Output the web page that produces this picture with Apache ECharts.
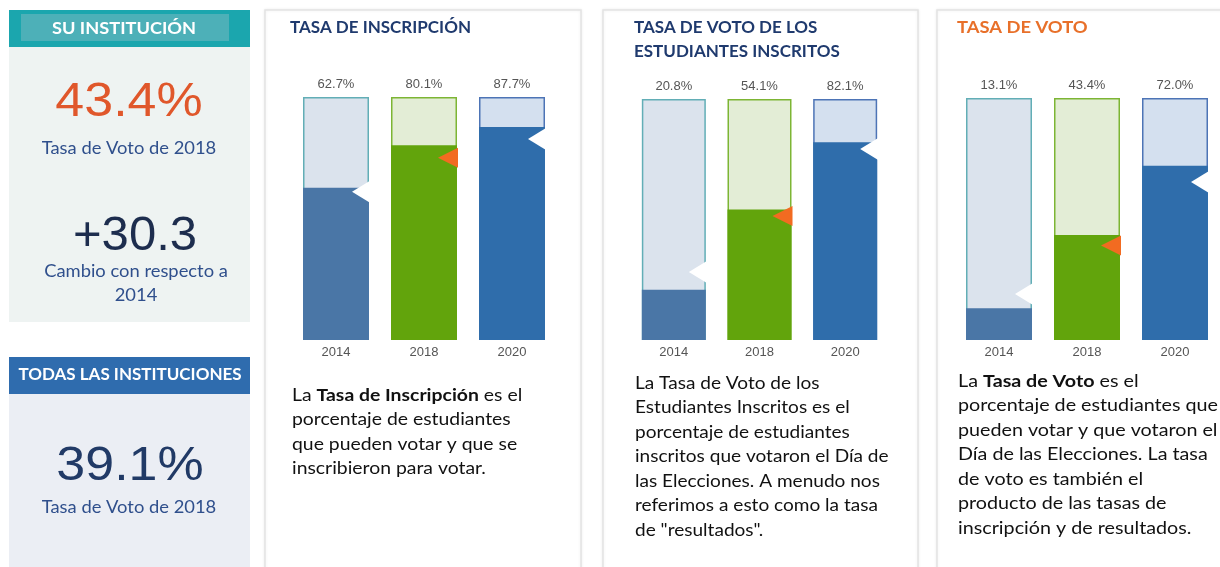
<!DOCTYPE html>
<html>
<head>
<meta charset="utf-8">
<script src="https://cdn.jsdelivr.net/npm/echarts@6/dist/echarts.min.js"></script>
<style>
html, body { margin: 0; padding: 0; background: #fff; }
#main { width: 1220px; height: 567px; }
</style>
</head>
<body>
<div id="main"></div>
<script>
// datos
var years = ['2014', '2018', '2020'];
var tasaInscripcion = [62.7, 80.1, 87.7];
var tasaVotoInscritos = [20.8, 54.1, 82.1];
var tasaVoto = [13.1, 43.4, 72.0];
// marcas de todas las instituciones
var inscripcionTodas = [61.0, 75.0, 82.7];
var votoInscritosTodas = [28.2, 51.5, 79.3];
var tasaVotoTodas = [19.0, 39.1, 65.3];
var suTasa2018 = 43.4;
var cambioDesde2014 = 30.3;
var todasTasa2018 = 39.1;

var colRelleno = ['#4a76a6', '#62a40c', '#2f6dab'];
var colFondo = ['#dbe3ed', '#e3edd6', '#d4e0ef'];
var colBorde = ['#62aeb6', '#7db534', '#4d74b6'];

var sans = 'Lato';
var arial = '"Liberation Sans", Arial';

var myChart = echarts.init(document.getElementById('main'));

var paneles = [
    { valores: tasaInscripcion, marcas: inscripcionTodas, left: 292, width: 264, top: 97, barW: 66 },
    { valores: tasaVotoInscritos, marcas: votoInscritosTodas, left: 631, width: 257, top: 99, barW: 64 },
    { valores: tasaVoto, marcas: tasaVotoTodas, left: 955, width: 264, top: 98, barW: 66 }
];

function fmt(v) { return v.toFixed(1) + '%'; }

function marcaItem(barW) {
    return function (params, api) {
        var p = api.coord([api.value(0), api.value(1)]);
        var right = p[0] + barW / 2;
        var naranja = params.dataIndex === 1;
        var w = naranja ? 19 : 17;
        var h = naranja ? 20 : 22;
        return {
            type: 'polygon',
            shape: { points: [[right + 1, p[1] - h / 2], [right - w, p[1]], [right + 1, p[1] + h / 2]] },
            style: { fill: naranja ? '#f26b21' : '#ffffff' }
        };
    };
}

var grids = [], xAxes = [], yAxes = [], series = [];
paneles.forEach(function (pn, i) {
    grids.push({ left: pn.left, width: pn.width, top: pn.top, bottom: 567 - 340 });
    xAxes.push({
        type: 'category', gridIndex: i, data: years,
        axisLine: { show: false }, axisTick: { show: false },
        axisLabel: { color: '#555', fontSize: 13, fontFamily: arial, margin: 6 }
    });
    yAxes.push({ type: 'value', gridIndex: i, min: 0, max: 100, show: false });
    series.push({
        type: 'bar', xAxisIndex: i, yAxisIndex: i, barWidth: pn.barW, barGap: '-100%',
        silent: true,
        data: years.map(function (y, k) {
            return { value: 100, itemStyle: { color: colFondo[k], borderColor: colBorde[k], borderWidth: 1.5 } };
        }),
        label: {
            show: true, position: 'top', distance: 6, color: '#555', fontSize: 13, fontFamily: arial,
            formatter: function (p) { return fmt(pn.valores[p.dataIndex]); }
        }
    });
    series.push({
        type: 'bar', xAxisIndex: i, yAxisIndex: i, barWidth: pn.barW, barGap: '-100%',
        silent: true,
        data: pn.valores.map(function (v, k) {
            return { value: v, itemStyle: { color: colRelleno[k] } };
        })
    });
    series.push({
        type: 'custom', xAxisIndex: i, yAxisIndex: i, silent: true,
        renderItem: marcaItem(pn.barW),
        data: pn.marcas.map(function (v, k) { return [k, v]; }),
        z: 5
    });
});

function tarjeta(x, w) {
    return { type: 'rect', shape: { x: x, y: 10, width: w, height: 570 },
        style: { fill: '#fff', stroke: '#e3e3e3', lineWidth: 1.5, shadowBlur: 3, shadowColor: 'rgba(0,0,0,0.08)' }, z: -10 };
}

// texto con escala horizontal (la referencia esta algo estirada)
function texto(x, y, t, size, color, extra, sx) {
    var s = { text: t, x: 0, y: 0, fontSize: size, fill: color, fontFamily: sans,
        textAlign: 'center', textVerticalAlign: 'middle' };
    for (var k in extra) s[k] = extra[k];
    return { type: 'text', x: x, y: y, scaleX: sx || 1, style: s, z: 10 };
}

var negrita = { fontFamily: sans, fontSize: 17, fontWeight: 'bold', fill: '#111', lineHeight: 24.5 };
function parrafo(x, y, t, sx) {
    return { type: 'text', z: 10, x: x, y: y, scaleX: sx, style: {
        text: t, x: 0, y: 0, fontFamily: sans, fontSize: 17, fill: '#111', lineHeight: 24.5,
        textVerticalAlign: 'top', rich: { b: negrita }
    } };
}

var graficos = [
    // columna izquierda
    { type: 'rect', shape: { x: 9, y: 46, width: 241, height: 276 }, style: { fill: '#eef3f2' }, z: -10 },
    { type: 'rect', shape: { x: 9, y: 10, width: 241, height: 37 }, style: { fill: '#1ba6ae' }, z: -9 },
    { type: 'rect', shape: { x: 21, y: 14, width: 208, height: 27 }, style: { fill: '#4db0b8' }, z: -8 },
    texto(124, 29, 'SU INSTITUCIÓN', 17, '#fff', { fontWeight: 'bold' }, 1.07),
    texto(129, 102, fmt(suTasa2018), 49, '#e0572b', { fontFamily: arial }, 1.06),
    texto(129, 149, 'Tasa de Voto de 2018', 17, '#2f4f8c', null, 1.08),
    texto(135, 236, '+' + cambioDesde2014.toFixed(1), 49, '#1d2d4e', { fontFamily: arial }),
    texto(136, 272, 'Cambio con respecto a', 17, '#2f4f8c', null, 1.08),
    texto(136, 296, years[0], 17, '#2f4f8c', null, 1.08),

    { type: 'rect', shape: { x: 9, y: 393, width: 241, height: 180 }, style: { fill: '#ebeef4' }, z: -10 },
    { type: 'rect', shape: { x: 9, y: 357, width: 241, height: 37 }, style: { fill: '#2f6cae' }, z: -9 },
    texto(130, 375, 'TODAS LAS INSTITUCIONES', 17, '#fff', { fontWeight: 'bold' }),
    texto(130, 466, fmt(todasTasa2018), 49, '#213a66', { fontFamily: arial }, 1.06),
    texto(129, 508, 'Tasa de Voto de 2018', 17, '#2f4f8c', null, 1.08),

    // tarjetas
    tarjeta(265, 316), tarjeta(603, 315), tarjeta(937, 300),
    texto(290, 28, 'TASA DE INSCRIPCIÓN', 17, '#1f3a6e', { fontWeight: 'bold', textAlign: 'left' }),
    texto(634, 28, 'TASA DE VOTO DE LOS', 17, '#1f3a6e', { fontWeight: 'bold', textAlign: 'left' }),
    texto(634, 52, 'ESTUDIANTES INSCRITOS', 17, '#1f3a6e', { fontWeight: 'bold', textAlign: 'left' }),
    texto(957, 28, 'TASA DE VOTO', 17, '#e8702a', { fontWeight: 'bold', textAlign: 'left' }, 1.08),

    parrafo(292, 383, 'La {b|Tasa de Inscripción} es el\nporcentaje de estudiantes\nque pueden votar y que se\ninscribieron para votar.', 1.14),
    parrafo(635, 371, 'La Tasa de Voto de los\nEstudiantes Inscritos es el\nporcentaje de estudiantes\ninscritos que votaron el Día de\nlas Elecciones. A menudo nos\nreferimos a esto como la tasa\nde "resultados".', 1.12),
    parrafo(958, 369, 'La {b|Tasa de Voto} es el\nporcentaje de estudiantes que\npueden votar y que votaron el\nDía de las Elecciones. La tasa\nde voto es también el\nproducto de las tasas de\ninscripción y de resultados.', 1.16)
];

var option = {
    animation: false,
    grid: grids,
    xAxis: xAxes,
    yAxis: yAxes,
    series: series,
    graphic: { elements: graficos }
};

myChart.setOption(option);
</script>
</body>
</html>
